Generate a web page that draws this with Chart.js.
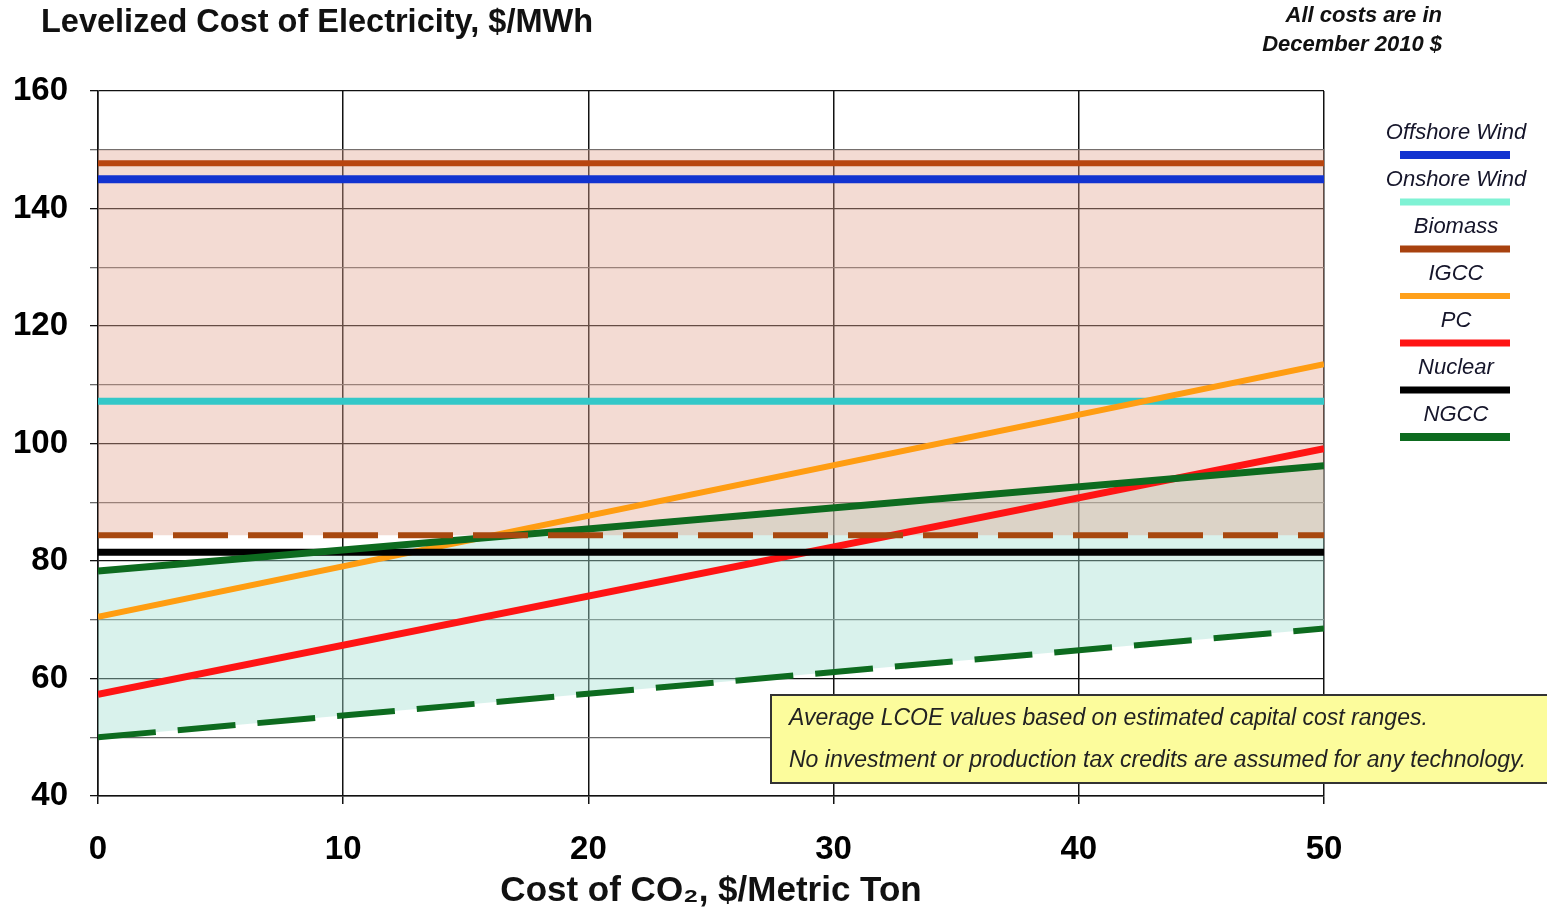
<!DOCTYPE html>
<html>
<head>
<meta charset="utf-8">
<title>Levelized Cost of Electricity</title>
<script src="https://cdn.jsdelivr.net/npm/chart.js@4.4.1/dist/chart.umd.min.js"></script>
<style>
  html, body { margin: 0; padding: 0; background: #fff; }
  #wrap { width: 1547px; height: 913px; }
</style>
</head>
<body>
<div id="wrap"><canvas id="lcoe" width="1547" height="913"></canvas></div>
<script>
// CO2 price ($/metric ton) at the two ends of each line
const co2Price = [0, 50];

// average LCOE, $/MWh, at each CO2 price
const offshoreWind = [145, 145];
const onshoreWind = [107.2, 107.2];
const biomass = [147.7, 147.7];
const biomassLow = [84.4, 84.4];
const igcc = [70.5, 113.5];
const pc = [57.3, 99.1];
const nuclear = [81.5, 81.5];
const ngcc = [78.3, 96.2];
const ngccLow = [50, 68.5];

// top edge of the shaded biomass range
const biomassBandTop = [150, 150];

const legendNames = ['Offshore Wind', 'Onshore Wind', 'Biomass', 'IGCC', 'PC', 'Nuclear', 'NGCC'];
const xTickValues = [0, 10, 20, 30, 40, 50];
const yTickValues = [40, 60, 80, 100, 120, 140, 160];

const FONT = '"Liberation Sans", Arial, sans-serif';

const colors = {
    offshore: '#1233d0',
    onshore: '#33c8c8',
    biomass: '#b8450f',
    igcc: '#ff9d12',
    pc: '#ff1414',
    nuclear: '#000000',
    ngcc: '#0d6b1f'
};

// legend swatches, top to bottom
const legendSwatches = [
    { color: colors.offshore, width: 8 },
    { color: '#7ff2d4', width: 7 },
    { color: '#a8420f', width: 7 },
    { color: '#ffa01a', width: 6 },
    { color: colors.pc, width: 7 },
    { color: colors.nuclear, width: 7 },
    { color: colors.ngcc, width: 8 }
];

function pts(values) {
    return co2Price.map((x, i) => ({ x: x, y: values[i] }));
}

function line(label, values, color, width, extra) {
    return Object.assign({
        label: label,
        data: pts(values),
        borderColor: color,
        backgroundColor: color,
        borderWidth: width,
        pointRadius: 0,
        tension: 0,
        fill: false
    }, extra || {});
}

// 0: band top, 1: biomass low (dashed), 2: ngcc (solid), 3: ngcc low (dashed) ...
const datasets = [
    line('Biomass range', biomassBandTop, 'rgba(0,0,0,0)', 0, {
        fill: { target: 1 },
        backgroundColor: 'rgba(224,166,146,0.40)'
    }),
    line('Biomass low', biomassLow, '#a8480f', 6, { borderDash: [55, 20] }),
    line('NGCC', ngcc, colors.ngcc, 7),
    line('NGCC low', ngccLow, colors.ngcc, 6, {
        borderDash: [58, 22],
        fill: { target: 2 },
        backgroundColor: 'rgba(165,224,210,0.42)'
    }),
    line('Nuclear', nuclear, colors.nuclear, 7),
    line('PC', pc, colors.pc, 7),
    line('IGCC', igcc, colors.igcc, 6),
    line('Onshore Wind', onshoreWind, colors.onshore, 7),
    line('Biomass', biomass, colors.biomass, 6),
    line('Offshore Wind', offshoreWind, colors.offshore, 8)
];

// titles, legend and note box drawn around the plot
const decorations = {
    id: 'decorations',
    afterDraw(chart) {
        const ctx = chart.ctx;
        ctx.save();

        ctx.fillStyle = '#111';
        ctx.textBaseline = 'middle';
        ctx.textAlign = 'left';
        ctx.font = 'bold 32.5px ' + FONT;
        ctx.fillText('Levelized Cost of Electricity, $/MWh', 41, 23);

        ctx.textAlign = 'right';
        ctx.font = 'italic bold 22px ' + FONT;
        ctx.fillText('All costs are in', 1442, 16);
        ctx.fillText('December 2010 $', 1442, 45);

        // legend
        ctx.textAlign = 'center';
        ctx.font = 'italic 22px ' + FONT;
        legendNames.forEach((name, i) => {
            const y = 133 + i * 47;
            ctx.fillStyle = '#15152a';
            ctx.fillText(name, 1456, y);
            ctx.strokeStyle = legendSwatches[i].color;
            ctx.lineWidth = legendSwatches[i].width;
            ctx.beginPath();
            ctx.moveTo(1400, y + 22);
            ctx.lineTo(1510, y + 22);
            ctx.stroke();
        });

        // note box
        ctx.fillStyle = '#fcfc9c';
        ctx.fillRect(771, 695, 790, 88);
        ctx.strokeStyle = '#333';
        ctx.lineWidth = 2;
        ctx.strokeRect(771, 695, 790, 88);
        ctx.fillStyle = '#222';
        ctx.textAlign = 'left';
        ctx.font = 'italic 23px ' + FONT;
        ctx.fillText('Average LCOE values based on estimated capital cost ranges.', 789, 719);
        ctx.fillText('No investment or production tax credits are assumed for any technology.', 789, 761);

        ctx.restore();
    }
};

new Chart(document.getElementById('lcoe'), {
    type: 'line',
    data: { datasets: datasets },
    options: {
        responsive: false,
        animation: false,
        events: [],
        layout: { padding: { top: 91, right: 223, bottom: 0, left: 0 } },
        plugins: {
            legend: { display: false },
            tooltip: { enabled: false },
            filler: { drawTime: 'beforeDatasetsDraw' }
        },
        scales: {
            x: {
                type: 'linear',
                min: 0,
                max: 50,
                afterFit: (s) => { s.height = 117; },
                afterBuildTicks: (s) => { s.ticks = xTickValues.map(v => ({ value: v })); },
                grid: {
                    color: '#111',
                    lineWidth: 1.5,
                    tickLength: 8
                },
                border: { color: '#111', width: 1.5 },
                ticks: {
                    color: '#000',
                    padding: 26,
                    font: { family: FONT, size: 33, weight: 'bold' }
                },
                title: {
                    display: true,
                    text: 'Cost of CO\u2082, $/Metric Ton',
                    color: '#111',
                    font: { family: FONT, size: 35, weight: 'bold' },
                    padding: { top: 0, bottom: 1 }
                }
            },
            y: {
                min: 40,
                max: 160,
                afterFit: (s) => { s.width = 98; },
                afterBuildTicks: (s) => {
                    const t = [];
                    for (let v = 40; v <= 160; v += 10) t.push({ value: v });
                    s.ticks = t;
                },
                grid: {
                    color: (c) => (c.tick && c.tick.value % 20 === 0 ? '#111' : '#6a6a6a'),
                    lineWidth: 1.3,
                    tickLength: 8
                },
                border: { color: '#111', width: 1.5 },
                ticks: {
                    color: '#000',
                    padding: 22,
                    font: { family: FONT, size: 33, weight: 'bold' },
                    callback: (v) => (yTickValues.includes(v) ? String(v) : '')
                }
            }
        }
    },
    plugins: [decorations]
});
</script>
</body>
</html>
